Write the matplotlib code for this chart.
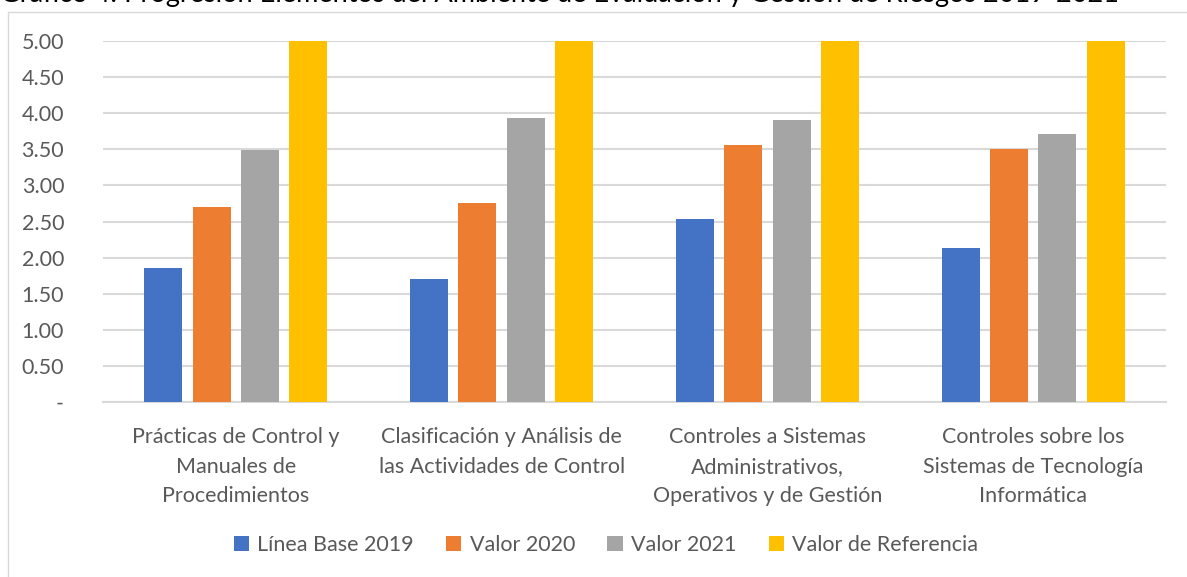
import matplotlib
matplotlib.use("Agg")
import matplotlib.pyplot as plt
from matplotlib.patches import Rectangle
import numpy as np

categories = [
    "Prácticas de Control y\nManuales de\nProcedimientos",
    "Clasificación y Análisis de\nlas Actividades de Control",
    "Controles a Sistemas\nAdministrativos,\nOperativos y de Gestión",
    "Controles sobre los\nSistemas de Tecnología\nInformática",
]
series_names = ["Línea Base 2019", "Valor 2020", "Valor 2021", "Valor de Referencia"]
linea_base_2019 = [1.85, 1.71, 2.53, 2.13]
valor_2020 = [2.70, 2.75, 3.56, 3.50]
valor_2021 = [3.49, 3.93, 3.91, 3.71]
valor_referencia = [5.00, 5.00, 5.00, 5.00]
yticks = [0, 0.5, 1.0, 1.5, 2.0, 2.5, 3.0, 3.5, 4.0, 4.5, 5.0]
ytick_labels = ["-", "0.50", "1.00", "1.50", "2.00", "2.50", "3.00", "3.50", "4.00", "4.50", "5.00"]
colors = ["#4472C4", "#ED7D31", "#A5A5A5", "#FFC000"]
title = "Gráfico 4: Progresión Elementos del Ambiente de Evaluación y Gestión de Riesgos 2019-2021"

W, H = 1187, 577
fig = plt.figure(figsize=(W / 100, H / 100), dpi=100)
plt.rcParams['font.family'] = ['Lato', 'DejaVu Sans']

# chart frame
fig.patches.append(Rectangle((8 / W, -0.1), 1.2, 1 - 12 / H + 0.1, transform=fig.transFigure,
                             fill=False, edgecolor="#D9D9D9", linewidth=1.0))
# title (cut off at top)
fig.text(0.0, 1 - 2 / H, title, ha="left", va="baseline", fontsize=19.5, color="black")

ax = fig.add_axes([103 / W, 1 - 402 / H, (1166 - 103) / W, (402 - 41) / H])
x = np.arange(len(categories))
all_series = [linea_base_2019, valor_2020, valor_2021, valor_referencia]
pitch = 0.182
width = 0.143
for i, (vals, name, c) in enumerate(zip(all_series, series_names, colors)):
    ax.bar(x + (i - 1.5) * pitch, vals, width=width, color=c, label=name, zorder=3)

ax.set_xlim(-0.5, 3.5)
ax.set_ylim(0, 5.0)
ax.set_yticks(yticks)
ax.set_yticklabels(ytick_labels)
ax.set_xticks(x)
ax.set_xticklabels(categories, linespacing=1.6)
ax.tick_params(axis="both", length=0, labelsize=15.5, labelcolor="#595959")
ax.tick_params(axis="y", pad=28)
ax.tick_params(axis="x", pad=18)
for lab in ax.get_yticklabels():
    lab.set_horizontalalignment("right")
ax.yaxis.grid(True, color="#D9D9D9", linewidth=1.5, zorder=0)
ax.set_axisbelow(True)
for s in ["top", "right", "left"]:
    ax.spines[s].set_visible(False)
ax.spines["bottom"].set_color("#D9D9D9")
ax.spines["bottom"].set_linewidth(1.5)
ax.spines["bottom"].set_zorder(1)

leg = fig.legend(loc="center", bbox_to_anchor=(606 / W, 1 - 545 / H), ncol=4, frameon=False,
                 fontsize=15.5, handlelength=0.7, handleheight=0.7, handletextpad=0.4,
                 columnspacing=1.5, labelcolor="#595959")

fig.savefig("out.png", dpi=100)
